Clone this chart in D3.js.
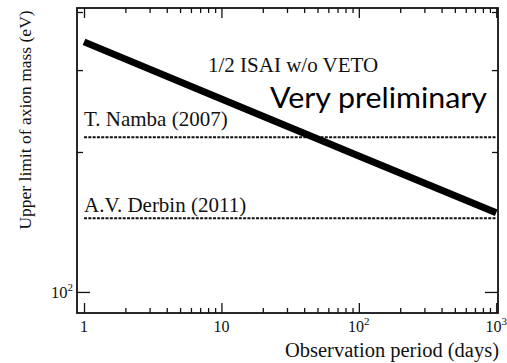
<!DOCTYPE html>
<html>
<head>
<meta charset="utf-8">
<script src="https://cdn.jsdelivr.net/npm/d3@7"></script>
<style>
    body { margin: 0; background: #fff; }
    svg { display: block; font-family: "Liberation Serif", "Times New Roman", serif; }
</style>
</head>
<body>
<div id="chart"></div>
<script>
// Sensitivity curve: observation period (days) vs upper limit of axion mass (eV)
const periodDays = [1, 10, 100, 1000];
const massLimit = [345, 260, 196, 148];

// Previous limits (horizontal reference lines)
const refLabels = ["T. Namba (2007)", "A.V. Derbin (2011)"];
const refMass = [215, 144];
const refSpan = [1, 1000];

// Ticks
const xMajor = [1, 10, 100, 1000];
const xLabels = [["1", ""], ["10", ""], ["10", "2"], ["10", "3"]];
const xMinor = [1, 10, 100].flatMap(d => [2, 3, 4, 5, 6, 7, 8, 9].map(k => k * d));
const yMajor = [100];
const yLabels = [["10", "2"]];
const yMinor = [200, 300, 400];

const width = 507, height = 363;
const box = { left: 77, top: 8, right: 498, bottom: 313 };
const ink = "#111";

const svg = d3.select("#chart").append("svg")
    .attr("width", width)
    .attr("height", height);

const x = d3.scaleLog().domain([0.889, 1030]).range([box.left, box.right]);
const y = d3.scaleLog().domain([90.1, 408]).range([box.bottom, box.top]);

// inward ticks on all four sides
function tickAxis(axisFn, scale, values, size, transform) {
    const g = svg.append("g")
        .attr("transform", transform)
        .call(axisFn(scale).tickValues(values).tickSize(-size).tickFormat(""));
    g.select(".domain").remove();
    g.selectAll(".tick line").attr("stroke", ink).attr("stroke-width", 1.3);
    return g;
}

tickAxis(d3.axisBottom, x, xMajor, 10, `translate(0,${box.bottom})`);
tickAxis(d3.axisBottom, x, xMinor, 5, `translate(0,${box.bottom})`);
tickAxis(d3.axisTop, x, xMajor, 10, `translate(0,${box.top})`);
tickAxis(d3.axisTop, x, xMinor, 5, `translate(0,${box.top})`);
tickAxis(d3.axisLeft, y, yMajor, 13, `translate(${box.left},0)`);
tickAxis(d3.axisLeft, y, yMinor, 6, `translate(${box.left},0)`);
tickAxis(d3.axisRight, y, yMajor, 13, `translate(${box.right},0)`);
tickAxis(d3.axisRight, y, yMinor, 6, `translate(${box.right},0)`);

// frame
svg.append("rect")
    .attr("x", box.left)
    .attr("y", box.top)
    .attr("width", box.right - box.left)
    .attr("height", box.bottom - box.top)
    .attr("fill", "none")
    .attr("stroke", ink)
    .attr("stroke-width", 1.8);

// tick labels with superscripts
function powerLabel(sel) {
    sel.append("tspan").text(d => d[0]);
    sel.append("tspan")
        .attr("dy", -7)
        .attr("font-size", 11)
        .text(d => d[1]);
}

svg.append("g").selectAll("text")
    .data(xLabels)
    .join("text")
    .attr("x", (d, i) => x(xMajor[i]))
    .attr("y", 332)
    .attr("text-anchor", "middle")
    .attr("font-size", 16)
    .attr("fill", ink)
    .call(powerLabel);

svg.append("g").selectAll("text")
    .data(yLabels)
    .join("text")
    .attr("x", box.left - 4)
    .attr("y", (d, i) => y(yMajor[i]) + 6)
    .attr("text-anchor", "end")
    .attr("font-size", 16.5)
    .attr("fill", ink)
    .call(powerLabel);

// reference limits
const refs = svg.append("g");
refs.selectAll("line")
    .data(refMass)
    .join("line")
    .attr("x1", x(refSpan[0]))
    .attr("x2", x(refSpan[1]))
    .attr("y1", d => y(d))
    .attr("y2", d => y(d))
    .attr("stroke", ink)
    .attr("stroke-width", 2)
    .attr("stroke-dasharray", "3,1.3");

refs.selectAll("text")
    .data(refLabels)
    .join("text")
    .attr("x", x(1))
    .attr("y", (d, i) => y(refMass[i]) - (i === 0 ? 11.5 : 6.5))
    .attr("font-size", 21)
    .attr("fill", ink)
    .text(d => d);

// sensitivity line
const line = d3.line()
    .x(d => x(d[0]))
    .y(d => y(d[1]));

svg.append("path")
    .datum(periodDays.map((d, i) => [d, massLimit[i]]))
    .attr("d", line)
    .attr("fill", "none")
    .attr("stroke", "#000")
    .attr("stroke-width", 7);

// annotations
svg.append("text")
    .attr("x", 208)
    .attr("y", 72)
    .attr("font-size", 21)
    .attr("fill", ink)
    .text("1/2 ISAI w/o VETO");

svg.append("text")
    .attr("x", 270)
    .attr("y", 108)
    .attr("font-family", "Lato, 'Open Sans', sans-serif")
    .attr("font-size", 29)
    .attr("textLength", 217)
    .attr("lengthAdjust", "spacingAndGlyphs")
    .attr("fill", "#000")
    .text("Very preliminary");

// axis titles
svg.append("text")
    .attr("transform", "translate(31,120) rotate(-90)")
    .attr("text-anchor", "middle")
    .attr("font-size", 17.5)
    .attr("fill", ink)
    .text("Upper limit of axion mass (eV)");

svg.append("text")
    .attr("x", 499)
    .attr("y", 357)
    .attr("text-anchor", "end")
    .attr("font-size", 20.5)
    .attr("fill", ink)
    .text("Observation period (days)");
</script>
</body>
</html>
